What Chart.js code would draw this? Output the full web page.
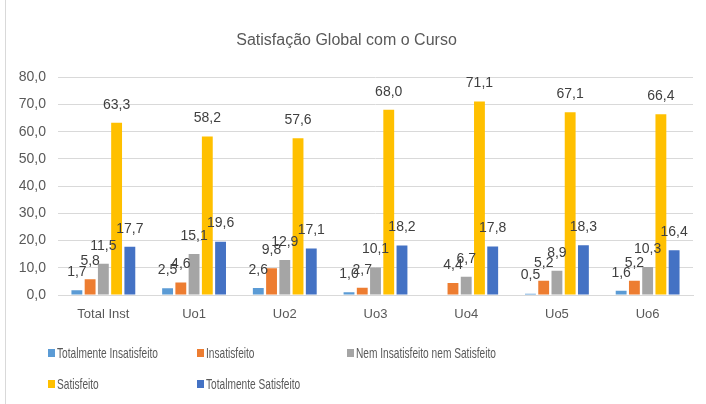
<!DOCTYPE html>
<html>
<head>
<meta charset="utf-8">
<script src="https://cdn.jsdelivr.net/npm/chart.js@4"></script>
<style>
  html, body { margin: 0; padding: 0; background: #fff; }
  #wrap { width: 706px; height: 404px; position: relative; }
</style>
</head>
<body>
<div id="wrap"><canvas id="satChart" width="706" height="404"></canvas></div>
<script>
const categories = ['Total Inst', 'Uo1', 'Uo2', 'Uo3', 'Uo4', 'Uo5', 'Uo6'];
const seriesNames = ['Totalmente Insatisfeito', 'Insatisfeito', 'Nem Insatisfeito nem Satisfeito', 'Satisfeito', 'Totalmente Satisfeito'];
const totalInsat = [1.7, 2.5, 2.6, 1.0, null, 0.5, 1.6];
const insat = [5.8, 4.6, 9.8, 2.7, 4.4, 5.2, 5.2];
const nemNem = [11.5, 15.1, 12.9, 10.1, 6.7, 8.9, 10.3];
const satisf = [63.3, 58.2, 57.6, 68.0, 71.1, 67.1, 66.4];
const totalSat = [17.7, 19.6, 17.1, 18.2, 17.8, 18.3, 16.4];
const colors = ['#5B9BD5', '#ED7D31', '#A5A5A5', '#FFC000', '#4472C4'];

const fmt = v => v.toFixed(1).replace('.', ',');
const FONT = '"Liberation Sans", Arial, sans-serif';

// value labels above each bar
const barLabels = {
    id: 'barLabels',
    afterDatasetsDraw(chart) {
        const ctx = chart.ctx;
        ctx.save();
        ctx.font = '14px ' + FONT;
        ctx.fillStyle = '#404040';
        ctx.textAlign = 'center';
        ctx.textBaseline = 'middle';
        chart.data.datasets.forEach((ds, i) => {
            chart.getDatasetMeta(i).data.forEach((bar, j) => {
                const v = ds.data[j];
                if (v === null || v === undefined) return;
                ctx.fillText(fmt(v), bar.x, bar.y - 18);
            });
        });
        ctx.restore();
    }
};

// legend in a fixed grid, like the original (narrow text)
const gridLegend = {
    id: 'gridLegend',
    afterDraw(chart) {
        const ctx = chart.ctx;
        const cols = [48, 197, 347];
        const rows = [353, 384];
        const squeeze = 0.7;
        ctx.save();
        ctx.font = '14.5px ' + FONT;
        ctx.textBaseline = 'middle';
        chart.data.datasets.forEach((ds, i) => {
            const x = cols[i % 3];
            const y = rows[Math.floor(i / 3)];
            ctx.fillStyle = ds.backgroundColor;
            ctx.fillRect(x, y - 4, 7, 8);
            ctx.fillStyle = '#595959';
            ctx.save();
            ctx.translate(x + 9, y + 1);
            ctx.scale(squeeze, 1);
            ctx.fillText(ds.label, 0, 0);
            ctx.restore();
        });
        // frame line on the left
        ctx.strokeStyle = '#d9d9d9';
        ctx.lineWidth = 1;
        ctx.beginPath();
        ctx.moveTo(5.5, 0);
        ctx.lineTo(5.5, 404);
        ctx.stroke();
        ctx.restore();
    }
};

const series = [totalInsat, insat, nemNem, satisf, totalSat];

new Chart(document.getElementById('satChart').getContext('2d'), {
    type: 'bar',
    data: {
        labels: categories,
        datasets: series.map((d, i) => ({
            label: seriesNames[i],
            data: d,
            backgroundColor: colors[i],
            categoryPercentage: 0.73,
            barPercentage: 0.82
        }))
    },
    options: {
        responsive: false,
        animation: false,
        layout: { padding: { left: 0, right: 13, top: 0, bottom: 0 } },
        plugins: {
            legend: { display: false },
            tooltip: { enabled: false },
            title: {
                display: true,
                text: 'Satisfação Global com o Curso',
                color: '#595959',
                font: { family: FONT, size: 16, weight: 'normal' },
                padding: { top: 31, bottom: 27 }
            }
        },
        scales: {
            x: {
                grid: { display: false, drawTicks: false },
                border: { color: '#d9d9d9' },
                ticks: { color: '#595959', font: { family: FONT, size: 13 }, padding: 12 },
                afterFit: s => { s.height = 109; }
            },
            y: {
                min: 0,
                max: 80,
                grid: { color: '#d9d9d9', drawTicks: false },
                border: { display: false },
                ticks: {
                    stepSize: 10,
                    color: '#595959',
                    font: { family: FONT, size: 14 },
                    padding: 12,
                    callback: v => fmt(v)
                },
                afterFit: s => { s.width = 58; }
            }
        }
    },
    plugins: [barLabels, gridLegend]
});
</script>
</body>
</html>
